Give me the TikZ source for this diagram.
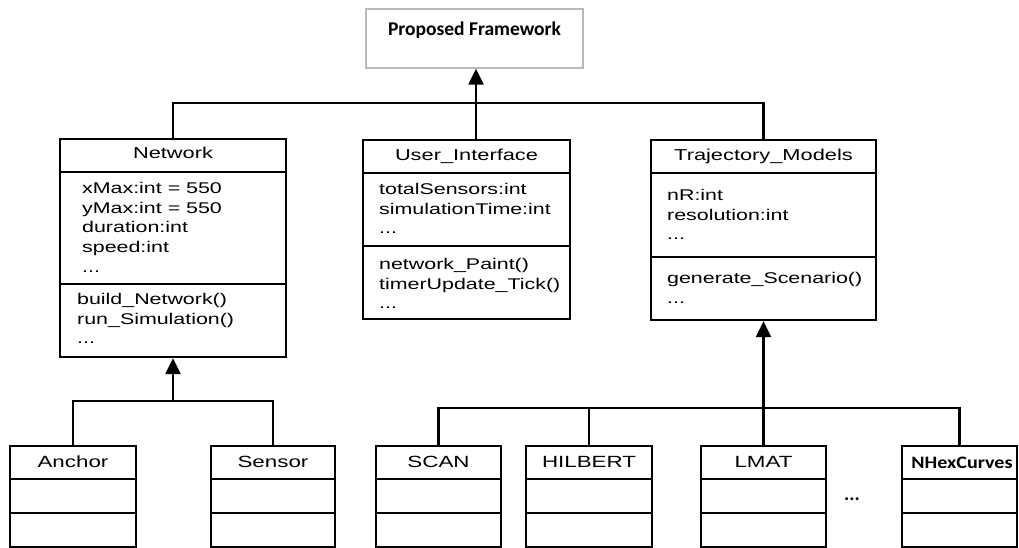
\documentclass[tikz,border=0pt]{standalone}
\usepackage{fontspec}
\setmainfont{Liberation Sans}[FakeStretch=1.38]
\newfontfamily\pfont{Carlito}
\newfontfamily\nfont{Carlito}[FakeStretch=1.15]
\usetikzlibrary{arrows.meta,fit}
\tikzset{
  umlbox/.style={draw, line width=2.3pt, inner sep=0pt},
  topbox/.style={draw=gray!55, line width=1.3pt, inner sep=0pt},
  sepline/.style={line width=2pt},
  wire/.style={line width=2.3pt},
  inh/.style={wire, -{Triangle[width=15pt,length=16pt]}},
  hdr/.style={inner sep=0pt, anchor=base, font=\fontsize{15.8}{19.7}\selectfont},
  chdr/.style={inner sep=0pt, anchor=base, font=\fontsize{16.2}{19.7}\selectfont},
  body/.style={inner sep=0pt, anchor=north west, align=left, font=\fontsize{15.5}{19.7}\selectfont},
  cal/.style={inner sep=0pt, anchor=base, font=\pfont\bfseries\fontsize{19.5}{24}\selectfont},
}
\begin{document}
\begin{tikzpicture}[x=1pt,y=-1pt]
\useasboundingbox (0,0) rectangle (1019,548);

% top box
\node[topbox, fit={(366,9) (583,68)}] (top) {};
\node[cal] (toptxt) at (474.5,36) {Proposed Framework};

% Network
\node[umlbox, fit={(60,139) (286,357)}] (net) {};
\draw[sepline] (net.west |- 0,172) -- (net.east |- 0,172);
\draw[sepline] (net.west |- 0,284) -- (net.east |- 0,284);
\node[hdr] (netT) at (173,159) {Network};
\node[body] (netA) at (82,182) {xMax:int = 550\\yMax:int = 550\\duration:int\\speed:int\\...};
\node[body] (netM) at (77,293) {build\_Network()\\run\_Simulation()\\...};

% User_Interface
\node[umlbox, fit={(363,140) (570,319)}] (ui) {};
\draw[sepline] (ui.west |- 0,173) -- (ui.east |- 0,173);
\draw[sepline] (ui.west |- 0,246) -- (ui.east |- 0,246);
\node[hdr] (uiT) at (466.5,161) {User\_Interface};
\node[body] (uiA) at (379,183) {totalSensors:int\\simulationTime:int\\...};
\node[body] (uiM) at (379,258) {network\_Paint()\\timerUpdate\_Tick()\\...};

% Trajectory_Models
\node[umlbox, fit={(651,140) (876,320)}] (tj) {};
\draw[sepline] (tj.west |- 0,173) -- (tj.east |- 0,173);
\draw[sepline] (tj.west |- 0,257) -- (tj.east |- 0,257);
\node[hdr] (tjT) at (763.5,161) {Trajectory\_Models};
\node[body] (tjA) at (667,189) {nR:int\\resolution:int\\...};
\node[body] (tjM) at (667,272) {generate\_Scenario()\\...};

% bottom classes
\foreach \nm/\xa/\xb in {anc/10/136, sen/211/335, scan/376/501, hil/526/652, lmat/701/826, nhex/902/1017}{
  \node[umlbox, fit={(\xa,446) (\xb,547)}] (\nm) {};
  \draw[sepline] (\nm.west |- 0,479) -- (\nm.east |- 0,479);
  \draw[sepline] (\nm.west |- 0,513) -- (\nm.east |- 0,513);
}
\node[chdr] (ancT) at (73,467) {Anchor};
\node[chdr] (senT) at (273,467) {Sensor};
\node[chdr] (scanT) at (438.5,467) {SCAN};
\node[chdr] (hilT) at (589,467) {HILBERT};
\node[chdr] (lmatT) at (763.5,467) {LMAT};
\node[inner sep=0pt, anchor=base, font=\nfont\bfseries\fontsize{17.5}{22}\selectfont] (nhexT) at (962,468) {NHexCurves};
\node[cal] (dots) at (852,500) {...};

% connectors: top level
\coordinate (tb) at (476,104);
\draw[wire] (net.north) -- ++(0,-35) -| (tj.north);
\draw[wire] (tb) -- (tb |- ui.north);
\draw[inh] (tb) -- (tb |- top.south);

% Network subclasses
\coordinate (nb) at (173,402);
\draw[wire] (anc.north) -- ++(0,-44) -| (sen.north);
\draw[inh] (nb) -- (net.south);

% Trajectory subclasses
\coordinate (tjb) at (763.5,409);
\draw[wire] (scan.north) -- ++(0,-37) -| (nhex.north);
\draw[wire] (hil.north) -- (hil.north |- tjb);
\draw[wire] (lmat.north) -- (tjb);
\draw[inh] (tjb) -- (tj.south);
\end{tikzpicture}
\end{document}
